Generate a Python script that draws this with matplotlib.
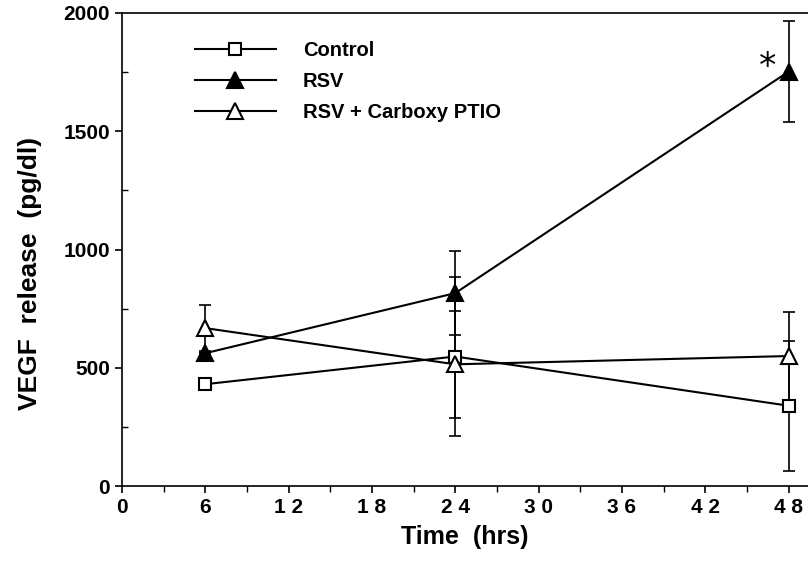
import matplotlib.pyplot as plt
from matplotlib.ticker import MultipleLocator

plt.rcParams["font.family"] = ["Liberation Sans", "DejaVu Sans"]

hours = [6, 24, 48]

control = [431, 548, 340]
control_err = [0, 336, 275]

rsv = [562, 816, 1752]
rsv_err = [0, 178, 214]

ptio = [668, 515, 550]
ptio_err = [97, 226, 188]

x_ticks = [0, 6, 12, 18, 24, 30, 36, 42, 48]
x_labels = ["0", "6", "1 2", "1 8", "2 4", "3 0", "3 6", "4 2", "4 8"]
y_ticks = [0, 500, 1000, 1500, 2000]


def main():
    fig = plt.figure(figsize=(8.08, 5.64), dpi=100)
    ax = fig.add_axes([0.151, 0.138, 0.849, 0.839])

    err = dict(fmt="none", ecolor="black", elinewidth=1.2, capsize=4,
               capthick=1.2)
    ax.errorbar(hours, control, yerr=control_err, zorder=2, **err)
    ax.errorbar(hours, rsv, yerr=rsv_err, zorder=2, **err)
    ax.errorbar(hours, ptio, yerr=ptio_err, zorder=2, **err)

    ax.plot(hours, control, color="black", lw=1.5, marker="s", markersize=9,
            markerfacecolor="white", markeredgewidth=1.5, label="Control",
            zorder=3)
    ax.plot(hours, rsv, color="black", lw=1.5, marker="^", markersize=11,
            markerfacecolor="black", markeredgewidth=1.5, label="RSV",
            zorder=3)
    ax.plot(hours, ptio, color="black", lw=1.5, marker="^", markersize=11,
            markerfacecolor="white", markeredgewidth=1.5,
            label="RSV + Carboxy PTIO", zorder=4)

    # significance mark next to the 48 h RSV point
    ax.annotate("*", (hours[2], rsv[2]), xytext=(-15, -9),
                textcoords="offset points", fontsize=25, ha="center",
                va="bottom", family="DejaVu Sans")

    ax.set_xlim(0, 49.4)
    ax.set_ylim(0, 2000)
    ax.set_xticks(x_ticks)
    ax.set_xticklabels(x_labels)
    ax.set_yticks(y_ticks)
    ax.xaxis.set_minor_locator(MultipleLocator(3))
    ax.yaxis.set_minor_locator(MultipleLocator(250))
    ax.tick_params(which="major", direction="out", length=5, width=1.2,
                   labelsize=15)
    ax.tick_params(axis="x", which="minor", direction="out", length=4,
                   width=1)
    ax.tick_params(axis="y", which="minor", direction="in", length=4,
                   width=1)
    for lab in ax.get_xticklabels() + ax.get_yticklabels():
        lab.set_fontweight("bold")

    ax.spines["right"].set_visible(False)
    for s in ["left", "bottom", "top"]:
        ax.spines[s].set_linewidth(1.2)

    ax.set_xlabel("Time  (hrs)", fontsize=18, fontweight="bold", labelpad=6)
    ax.set_ylabel("VEGF  release  (pg/dl)", fontsize=19, fontweight="bold")
    ax.yaxis.set_label_coords(-0.117, 0.45)

    leg = ax.legend(loc="upper left", bbox_to_anchor=(0.08, 0.98),
                    frameon=False, fontsize=14.5, handlelength=4.0,
                    handletextpad=1.35, labelspacing=0.6)
    for t in leg.get_texts():
        t.set_fontweight("bold")

    fig.savefig("out.png", dpi=100)
    plt.close(fig)


if __name__ == "__main__":
    main()
